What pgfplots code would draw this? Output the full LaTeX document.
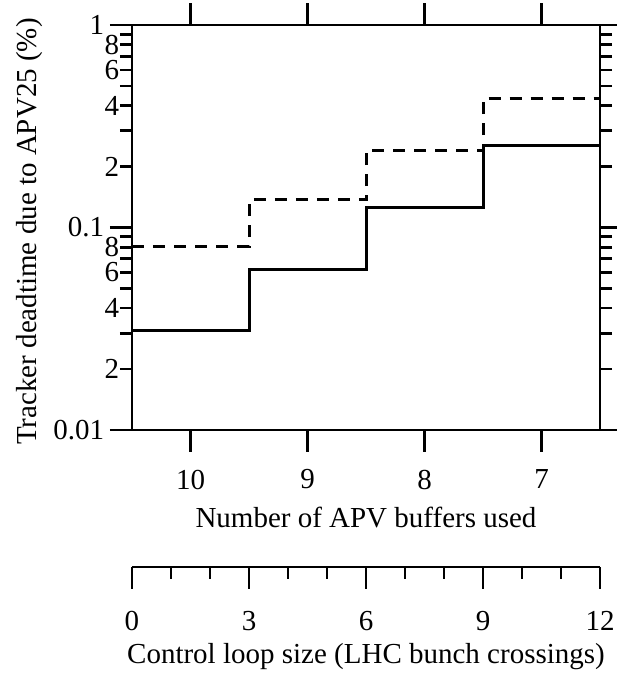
\documentclass[border=0pt]{standalone}
\usepackage{fontspec}
\setmainfont{Liberation Serif}
\usepackage{pgfplots}
\pgfplotsset{compat=1.18}
\begin{document}
\fontsize{29}{34}\selectfont
\begin{tikzpicture}
\useasboundingbox (-132pt,-244pt) rectangle (485pt,430pt);
\begin{axis}[
  at={(0pt,0pt)}, anchor=south west,
  scale only axis, width=468pt, height=405pt,
  ymode=log, ymin=0.01, ymax=1,
  xmin=-0.5, xmax=3.5,
  xtick={0,1,2,3}, xticklabels={10,9,8,7},
  ytick={0.01,0.1,1}, yticklabels={0.01,0.1,1},
  minor ytick={0.03,0.05,0.07,0.09,0.3,0.5,0.7,0.9},
  extra y ticks={0.02,0.04,0.06,0.08,0.2,0.4,0.6,0.8},
  extra y tick labels={2,4,6,8,2,4,6,8},
  extra y tick style={major tick length=12pt, yticklabel style={xshift=5pt}},
  tick align=outside,
  major tick length=22pt, minor tick length=12pt,
  tick style={line width=2.8pt, black},
  axis line style={line width=2.8pt},
  /pgf/number format/assume math mode=true,
  ticklabel style={font=\fontsize{29}{34}\selectfont},
  yticklabel style={xshift=4pt},
  xticklabel style={yshift=-8pt},
  label style={font=\fontsize{29}{34}\selectfont},
  xlabel={Number of APV buffers used},
  ylabel={Tracker deadtime due to APV25 (\%)},
  xlabel style={yshift=2pt},
  ylabel style={at={(axis description cs:-0.218,0.49)}, anchor=center},
]
\addplot[const plot, line width=3pt, black] coordinates {(-0.5,0.031) (0.5,0.062) (1.5,0.125) (2.5,0.255) (3.5,0.255)};
\addplot[const plot, line width=3pt, black, dash pattern=on 12pt off 9pt] coordinates {(-0.5,0.081) (0.5,0.137) (1.5,0.241) (2.5,0.433) (3.5,0.433)};
\end{axis}
\begin{axis}[
  at={(0pt,-137pt)}, anchor=south west,
  scale only axis, width=468pt, height=1pt,
  xmin=0, xmax=12, ymin=0, ymax=1,
  axis x line*=bottom, hide y axis,
  xtick={0,3,6,9,12},
  minor xtick={1,2,4,5,7,8,10,11},
  tick align=outside,
  major tick length=22pt, minor tick length=12pt,
  tick style={line width=2.8pt, black},
  axis line style={line width=2.8pt, -},
  /pgf/number format/assume math mode=true,
  ticklabel style={font=\fontsize{29}{34}\selectfont},
  xticklabel style={yshift=-12pt},
  label style={font=\fontsize{29}{34}\selectfont},
  xlabel={Control loop size (LHC bunch crossings)},
  xlabel style={yshift=7pt},
]
\end{axis}
\end{tikzpicture}
\end{document}
